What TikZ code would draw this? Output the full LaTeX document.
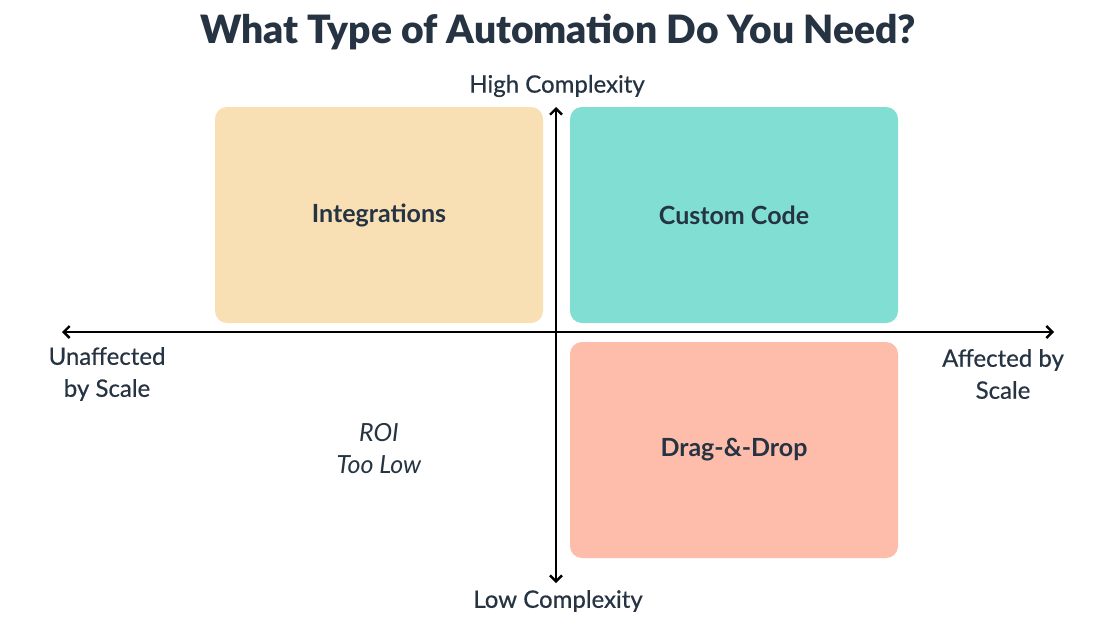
\documentclass[tikz,border=0pt]{standalone}
\usepackage{fontspec}
\setmainfont{Lato}
\newfontfamily\heavyfont{Lato Black}
\newfontfamily\mediumfont{Lato}[FakeBold=0.5]
\usepackage{xcolor}
\usetikzlibrary{arrows.meta}

\definecolor{inkNavy}{HTML}{253342}
\definecolor{peachBox}{HTML}{F8DFB4}
\definecolor{tealBox}{HTML}{81DED3}
\definecolor{salmonBox}{HTML}{FDBDAA}

\begin{document}
\begin{tikzpicture}[x=1pt, y=-1pt]
% Define styles
\tikzstyle{quad}=[rectangle, rounded corners=12pt, minimum width=328pt, minimum height=216pt, text centered, text=inkNavy, font=\fontsize{25}{30}\selectfont\bfseries]
\tikzstyle{axisLabel}=[align=center, text=inkNavy, font=\fontsize{24}{32}\selectfont\mediumfont]
\tikzstyle{axis}=[{Straight Barb[length=6pt,width=12pt]}-{Straight Barb[length=6pt,width=12pt]}, line width=2.4pt]

% Page frame
\useasboundingbox (0,0) rectangle (1116,627);
\fill[white] (0,0) rectangle (1116,627);

% Title
\node[text=inkNavy, font=\fontsize{39}{46}\selectfont\heavyfont] (title) at (558,32) {What Type of Automation Do You Need?};

% Draw quadrant boxes
\node[quad, fill=peachBox] (integrations) at (379,215) {Integrations};
\node[quad, fill=tealBox] (custom) at (734,215) {Custom Code};
\node[quad, fill=salmonBox] (dragdrop) at (734,450) {Drag-\&-Drop};

% Axis labels
\node[axisLabel] (high) at (557,86) {High Complexity};
\node[axisLabel] (low) at (558,601) {Low Complexity};
\node[axisLabel] (unaffected) at (107,374) {Unaffected\\by Scale};
\node[axisLabel] (affected) at (1003,374) {Affected by\\Scale};
\node[axisLabel, font=\fontsize{25}{32}\selectfont\itshape] (roi) at (379,449) {ROI\\Too Low};

% Arrows
\coordinate (west) at (62,332);
\coordinate (east) at (1054,332);
\coordinate (north) at (556,107);
\coordinate (south) at (556,583);
\draw[axis] (west) -- (east);
\draw[axis] (south) -- (north);
\end{tikzpicture}
\end{document}
